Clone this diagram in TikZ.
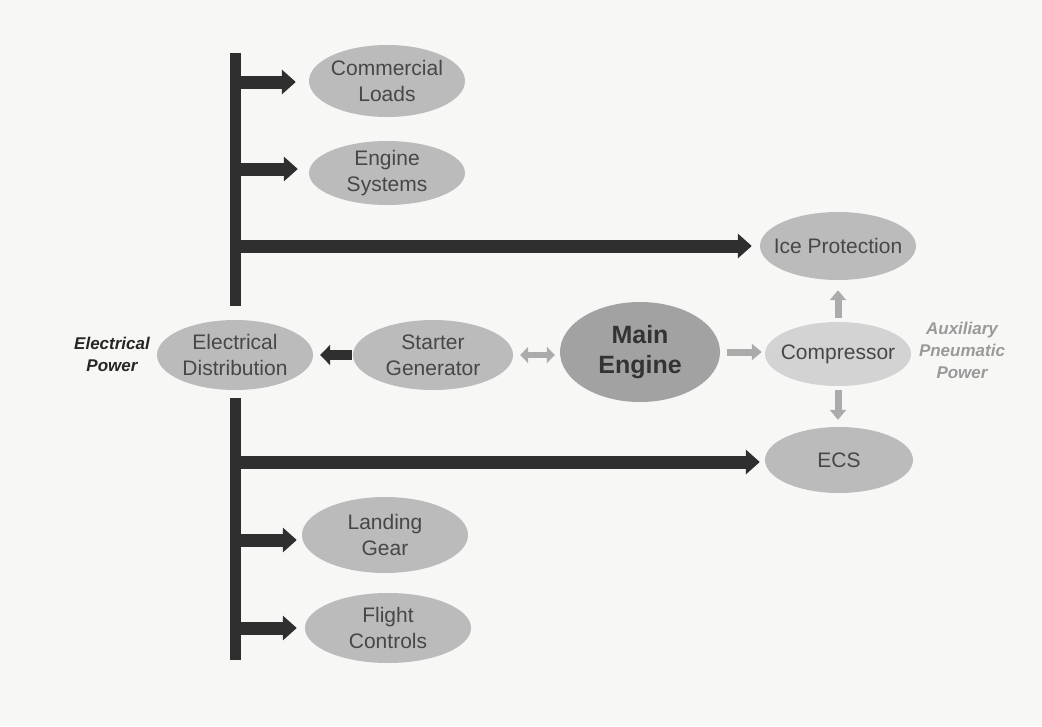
\documentclass[tikz,border=0pt]{standalone}
\usepackage{fontspec}
\setmainfont{Liberation Sans}
\usetikzlibrary{shapes.geometric,arrows.meta}
\definecolor{bg}{HTML}{F7F7F5}
\definecolor{ovalfill}{HTML}{BBBBBB}
\definecolor{enginefill}{HTML}{A2A2A2}
\definecolor{compfill}{HTML}{D3D3D3}
\definecolor{txt}{HTML}{474747}
\definecolor{dark}{HTML}{2F2F2F}
\definecolor{light}{HTML}{ABABAB}
\definecolor{auxtxt}{HTML}{9A9A9A}
\tikzset{
  oval/.style={ellipse, fill=ovalfill, inner sep=0pt},
  ovaltext/.style={align=center, text=txt, inner sep=0pt, font=\fontsize{21}{26}\selectfont},
  enginetext/.style={align=center, text=black!80, inner sep=0pt, font=\fontsize{25}{30}\selectfont\bfseries},
  bus/.style={draw=dark, line width=11pt},
  darr/.style={draw=dark, line width=13pt, -{Triangle[length=14pt,width=24pt]}},
  sarr/.style={draw=dark, line width=10pt, -{Triangle[length=10pt,width=20pt]}},
  larr/.style={draw=light, line width=7pt, -{Triangle[length=10pt,width=16pt]}},
  ldarr/.style={draw=light, line width=6pt, {Triangle[length=8pt,width=16pt]}-{Triangle[length=8pt,width=16pt]}},
  sidelabel/.style={align=center, font=\fontsize{17}{22}\selectfont\bfseries\itshape}
}
\begin{document}
\begin{tikzpicture}[x=1pt,y=-1pt]
\useasboundingbox (0,0) rectangle (1042,726);
\fill[bg] (0,0) rectangle (1042,726);

% nodes
\node[oval, minimum width=156pt, minimum height=72pt,
  label={[ovaltext]center:{Commercial\\Loads}}] (CL) at (387,81) {};
\node[oval, minimum width=156pt, minimum height=64pt,
  label={[ovaltext]center:{Engine\\Systems}}] (ES) at (387,173) {};
\node[oval, minimum width=156pt, minimum height=68pt,
  label={[ovaltext]center:{Ice Protection}}] (IP) at (838,246) {};
\node[oval, fill=compfill, minimum width=146pt, minimum height=64pt,
  label={[ovaltext]center:{Compressor}}] (COMP) at (838,354) {};
\node[oval, minimum width=148pt, minimum height=66pt,
  label={[ovaltext]center:{ECS}}] (ECS) at (839,460) {};
\node[oval, fill=enginefill, minimum width=160pt, minimum height=100pt,
  label={[enginetext]center:{Main\\Engine}}] (ME) at (640,352) {};
\node[oval, minimum width=160pt, minimum height=70pt,
  label={[ovaltext]center:{Starter\\Generator}}] (SG) at (433,355) {};
\node[oval, minimum width=156pt, minimum height=70pt,
  label={[ovaltext]center:{Electrical\\Distribution}}] (ED) at (235,355) {};
\node[oval, minimum width=166pt, minimum height=76pt,
  label={[ovaltext]center:{Landing\\Gear}}] (LG) at (385,535) {};
\node[oval, minimum width=166pt, minimum height=70pt,
  label={[ovaltext]center:{Flight\\Controls}}] (FC) at (388,628) {};

\node[sidelabel, text=black!85] (EP) at (112,354) {Electrical\\Power};
\node[sidelabel, text=auxtxt] (AUX) at (962,350) {Auxiliary\\Pneumatic\\Power};

% bus
\coordinate (bustop) at (235.5,53);
\coordinate (busbot) at (235.5,660);
\draw[bus] (bustop) -- ([yshift=14pt]ED.north -| bustop);
\draw[bus] ([yshift=-8pt]ED.south -| busbot) -- (busbot);

% distribution arrows
\draw[darr, shorten >=13pt] ([yshift=-1pt]bustop |- CL.west) -- ([yshift=-1pt]CL.west);
\draw[darr, shorten >=11pt] ([yshift=4pt]bustop |- ES.west) -- ([yshift=4pt]ES.west);
\draw[darr, shorten >=8pt] (bustop |- IP.west) -- (IP.west);
\draw[darr, shorten >=5pt] ([yshift=-2pt]bustop |- ECS.west) -- ([yshift=-2pt]ECS.west);
\draw[darr, shorten >=5pt] ([yshift=-5pt]bustop |- LG.west) -- ([yshift=-5pt]LG.west);
\draw[darr, shorten >=8pt] (bustop |- FC.west) -- (FC.west);

% central links
\draw[sarr, shorten <=1pt, shorten >=7pt] (SG.west) -- (ED.east);
\draw[ldarr, shorten <=7pt, shorten >=5pt] (SG.east) -- (ME.west |- SG.east);
\draw[larr, shorten <=7pt, shorten >=3pt] (ME.east) -- (COMP.west |- ME.east);
\draw[larr, shorten <=4pt, shorten >=10pt] (COMP.north) -- (IP.south);
\draw[larr, shorten <=4pt, shorten >=7pt] (COMP.south) -- (ECS.north -| COMP.south);
\end{tikzpicture}
\end{document}
